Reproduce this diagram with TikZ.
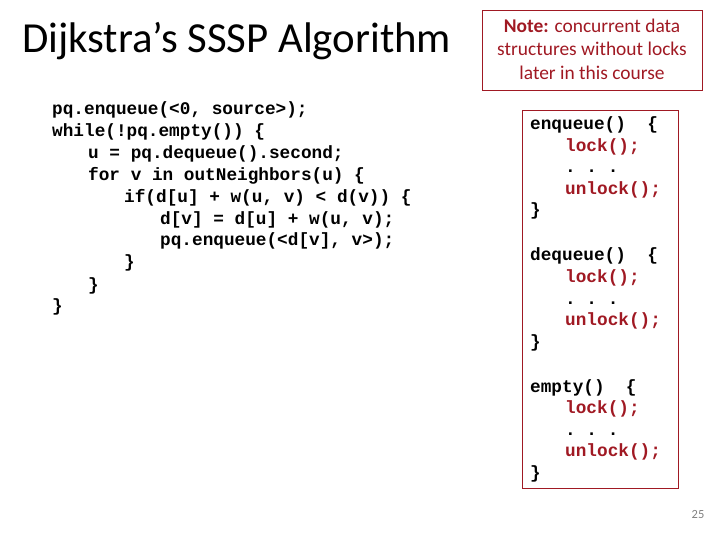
\documentclass[tikz,border=0pt]{standalone}
\usepackage{fontspec}
\setmainfont{Carlito}
\setmonofont{Liberation Mono}
\definecolor{noteRed}{RGB}{160,25,35}
\begin{document}
\begin{tikzpicture}
[
	              x = 1bp, y = -1bp,
	   code/.style = { anchor=base west, inner sep=0pt, font=\fontsize{17.8}{20}\ttfamily\bfseries },
	   lck/.style  = { code, text=noteRed },
	  frame/.style = { draw=noteRed, line width=0.8pt }
]
	\useasboundingbox (0,0) rectangle (720,540);

	% title
	\node (title) at (22,53) [anchor=base west, inner sep=0pt, font=\fontsize{43}{45}\selectfont] {Dijkstra’s SSSP Algorithm};

	% algorithm
	\node (l1) at (52,115)  [code] {pq.enqueue(<0, source>);};
	\node (l2) at (52,137)  [code] {while(!pq.empty()) \{};
	\node (l3) at (88,159)  [code] {u = pq.dequeue().second;};
	\node (l4) at (88,181)  [code] {for v in outNeighbors(u) \{};
	\node (l5) at (124,203) [code] {if(d[u] + w(u, v) < d(v)) \{};
	\node (l6) at (160,225) [code] {d[v] = d[u] + w(u, v);};
	\node (l7) at (160,246) [code] {pq.enqueue(<d[v], v>);};
	\node (l8) at (124,268) [code] {\}};
	\node (l9) at (88,290)  [code] {\}};
	\node (l10) at (52,311) [code] {\}};

	% note
	\draw [frame] (482,10) rectangle (702,90);
	\node (note) at (592,49) [align=center, text=noteRed, font=\fontsize{19.5}{23.5}\selectfont]
		{\textbf{Note:} concurrent data\\structures without locks\\later in this course};

	% locked operations
	\draw [frame] (522,110) rectangle (678,488);
	\foreach \op [count=\i from 0] in {enqueue, dequeue, empty}
	{
		\pgfmathsetmacro{\yy}{130+131*\i}
		\node (\op) at (530,\yy)         [code] {\op()\ \ \{};
		\node (\op lock) at (565,\yy+21.5) [lck] {lock();};
		\node (\op dots) at (565,\yy+43)   [code] {.\ .\ .};
		\node (\op unlock) at (565,\yy+64.5) [lck] {unlock();};
		\node (\op end) at (530,\yy+86)    [code] {\}};
	}

	% page number
	\node (page) at (698,514) [text=gray, font=\fontsize{12.5}{13}\selectfont] {25};
\end{tikzpicture}
\end{document}
